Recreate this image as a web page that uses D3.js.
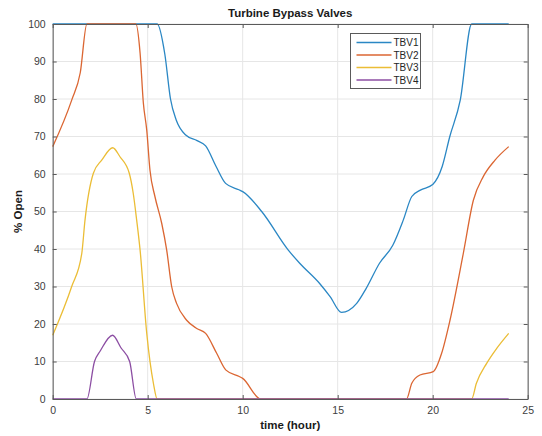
<!DOCTYPE html>
<html>
<head>
<meta charset="utf-8">
<script src="https://cdn.jsdelivr.net/npm/d3@7"></script>
<style>
  html, body { margin: 0; padding: 0; background: #fff; }
  svg { display: block; font-family: "Liberation Sans", Arial, Helvetica, sans-serif; }
</style>
</head>
<body>
<svg id="chart" width="542" height="436"></svg>
<script>
// Valve opening (%) over the day, one time/value pair list per valve
const tbv1Hours = [0, 5.5, 5.9, 6.2, 6.5, 7.0, 7.6, 8.05, 8.6, 9.1, 9.8, 10.0, 11.0, 12.4, 13.0, 14.05, 14.6, 15.2, 16.0, 16.5, 17.2, 17.9, 18.45, 18.9, 19.35, 20.0, 20.5, 20.9, 21.45, 22.05, 24];
const tbv1Open  = [100, 100, 92, 80, 74.4, 70.4, 68.9, 67.5, 62, 57.5, 55.8, 55.3, 50, 39.7, 36.2, 30.8, 27.3, 23.1, 25.5, 29.5, 36.2, 41, 47.7, 54, 55.7, 57.2, 62, 70, 79.7, 100, 100];

const tbv2Hours = [0, 1.0, 1.45, 1.8, 4.38, 4.6, 4.77, 4.95, 5.12, 5.38, 5.74, 6.0, 6.26, 6.52, 7.05, 7.58, 8.05, 8.63, 9.12, 9.82, 10.0, 10.95, 18.62, 18.9, 19.33, 20.03, 20.47, 20.91, 21.61, 22.14, 22.66, 23.28, 24];
const tbv2Open  = [67.3, 79.7, 87, 100, 100, 92.2, 79, 71.7, 61, 54, 46.8, 39.7, 30, 25.5, 21, 18.8, 17.5, 12.2, 7.7, 6, 5.5, 0, 0, 4.2, 6.4, 7.3, 12.2, 21, 38.8, 53, 59.3, 63.7, 67.3];

const tbv3Hours = [0, 1.0, 1.53, 1.7, 2.14, 2.58, 3.16, 3.54, 4.03, 4.24, 4.42, 4.6, 4.95, 5.3, 5.5, 22.05, 22.3, 22.84, 23.37, 24];
const tbv3Open  = [17, 30, 38.8, 47.7, 60.2, 63.7, 67, 64.6, 60.2, 54.8, 47.7, 39.7, 17.5, 4.2, 0, 0, 4.2, 9.5, 13.5, 17.5];

const tbv4Hours = [0, 1.8, 2.2, 2.5, 3.15, 3.6, 4.05, 4.4, 24];
const tbv4Open  = [0, 0, 10, 12.8, 17, 13.6, 10, 0, 0];

const seriesNames  = ["TBV1", "TBV2", "TBV3", "TBV4"];
const seriesColors = ["#2a87c4", "#db6632", "#ebbd36", "#8c4ea3"];

const xTicks = [0, 5, 10, 15, 20, 25];
const yTicks = [0, 10, 20, 30, 40, 50, 60, 70, 80, 90, 100];

const chartTitle = "Turbine Bypass Valves";
const xLabel = "time (hour)";
const yLabel = "% Open";

// Assemble series from the arrays above
const series = [
  [tbv1Hours, tbv1Open],
  [tbv2Hours, tbv2Open],
  [tbv3Hours, tbv3Open],
  [tbv4Hours, tbv4Open]
].map(([hours, open], i) => ({
  name: seriesNames[i],
  color: seriesColors[i],
  points: hours.map((h, j) => ({ t: h, v: open[j] }))
}));

const margin = { left: 52.7, right: 542 - 527.7, top: 24, bottom: 436 - 399 };
const width = 542, height = 436;
const innerW = width - margin.left - margin.right;
const innerH = height - margin.top - margin.bottom;

const x = d3.scaleLinear().domain([0, 25]).range([margin.left, margin.left + innerW]);
const y = d3.scaleLinear().domain([0, 100]).range([margin.top + innerH, margin.top]);

const svg = d3.select("#chart");

// Grid lines
const grid = svg.append("g").attr("class", "grid");
grid.selectAll("line.gx").data(xTicks).join("line")
  .attr("x1", d => x(d)).attr("x2", d => x(d))
  .attr("y1", margin.top).attr("y2", margin.top + innerH)
  .attr("stroke", "#e6e6e6").attr("stroke-width", 1);
grid.selectAll("line.gy").data(yTicks).join("line")
  .attr("x1", margin.left).attr("x2", margin.left + innerW)
  .attr("y1", d => y(d)).attr("y2", d => y(d))
  .attr("stroke", "#e6e6e6").attr("stroke-width", 1);

// Series lines
const line = d3.line()
  .x(d => x(d.t))
  .y(d => y(d.v))
  .curve(d3.curveMonotoneX);

svg.append("g").attr("class", "lines")
  .selectAll("path").data(series).join("path")
  .attr("d", d => line(d.points))
  .attr("fill", "none")
  .attr("stroke", d => d.color)
  .attr("stroke-width", 1.3)
  .attr("stroke-linejoin", "round");

// Axes with inward ticks on all four sides
const axisColor = "#5a5a5a";
const tickLen = 4;
const xBottom = svg.append("g")
  .attr("transform", `translate(0,${margin.top + innerH})`)
  .call(d3.axisBottom(x).tickValues(xTicks).tickSizeInner(-tickLen).tickSizeOuter(0).tickPadding(8));
const xTop = svg.append("g")
  .attr("transform", `translate(0,${margin.top})`)
  .call(d3.axisTop(x).tickValues(xTicks).tickSizeInner(-tickLen).tickSizeOuter(0).tickFormat(""));
const yLeft = svg.append("g")
  .attr("transform", `translate(${margin.left},0)`)
  .call(d3.axisLeft(y).tickValues(yTicks).tickSizeInner(-tickLen).tickSizeOuter(0).tickPadding(7));
const yRight = svg.append("g")
  .attr("transform", `translate(${margin.left + innerW},0)`)
  .call(d3.axisRight(y).tickValues(yTicks).tickSizeInner(-tickLen).tickSizeOuter(0).tickFormat(""));

[xBottom, xTop, yLeft, yRight].forEach(g => {
  g.select(".domain").attr("stroke", axisColor).attr("stroke-width", 1);
  g.selectAll(".tick line").attr("stroke", axisColor);
  g.selectAll(".tick text")
    .attr("fill", "#404040")
    .style("font-size", "10.5px")
    .style("font-family", "'Liberation Sans', Arial, sans-serif");
});

// Title and axis labels
svg.append("text")
  .attr("x", margin.left + innerW / 2).attr("y", 17)
  .attr("text-anchor", "middle")
  .style("font-size", "11.5px").style("font-weight", "bold")
  .attr("fill", "#1a1a1a")
  .text(chartTitle);

svg.append("text")
  .attr("x", margin.left + innerW / 2).attr("y", 429)
  .attr("text-anchor", "middle")
  .style("font-size", "11.5px").style("font-weight", "bold")
  .attr("fill", "#1a1a1a")
  .text(xLabel);

svg.append("text")
  .attr("transform", `translate(22,${margin.top + innerH / 2}) rotate(-90)`)
  .attr("text-anchor", "middle")
  .style("font-size", "11.5px").style("font-weight", "bold")
  .attr("fill", "#1a1a1a")
  .text(yLabel);

// Legend
const legend = svg.append("g").attr("transform", "translate(350.5,33.5)");
legend.append("rect")
  .attr("width", 70).attr("height", 55)
  .attr("fill", "#fff").attr("stroke", "#5a5a5a").attr("stroke-width", 1);
const items = legend.selectAll("g.item").data(series).join("g")
  .attr("class", "item")
  .attr("transform", (d, i) => `translate(0,${9 + i * 12.5})`);
items.append("line")
  .attr("x1", 6).attr("x2", 41).attr("y1", 0).attr("y2", 0)
  .attr("stroke", d => d.color).attr("stroke-width", 1.3);
items.append("text")
  .attr("x", 43).attr("y", 3.8)
  .style("font-size", "10px")
  .attr("fill", "#262626")
  .text(d => d.name);
</script>
</body>
</html>
